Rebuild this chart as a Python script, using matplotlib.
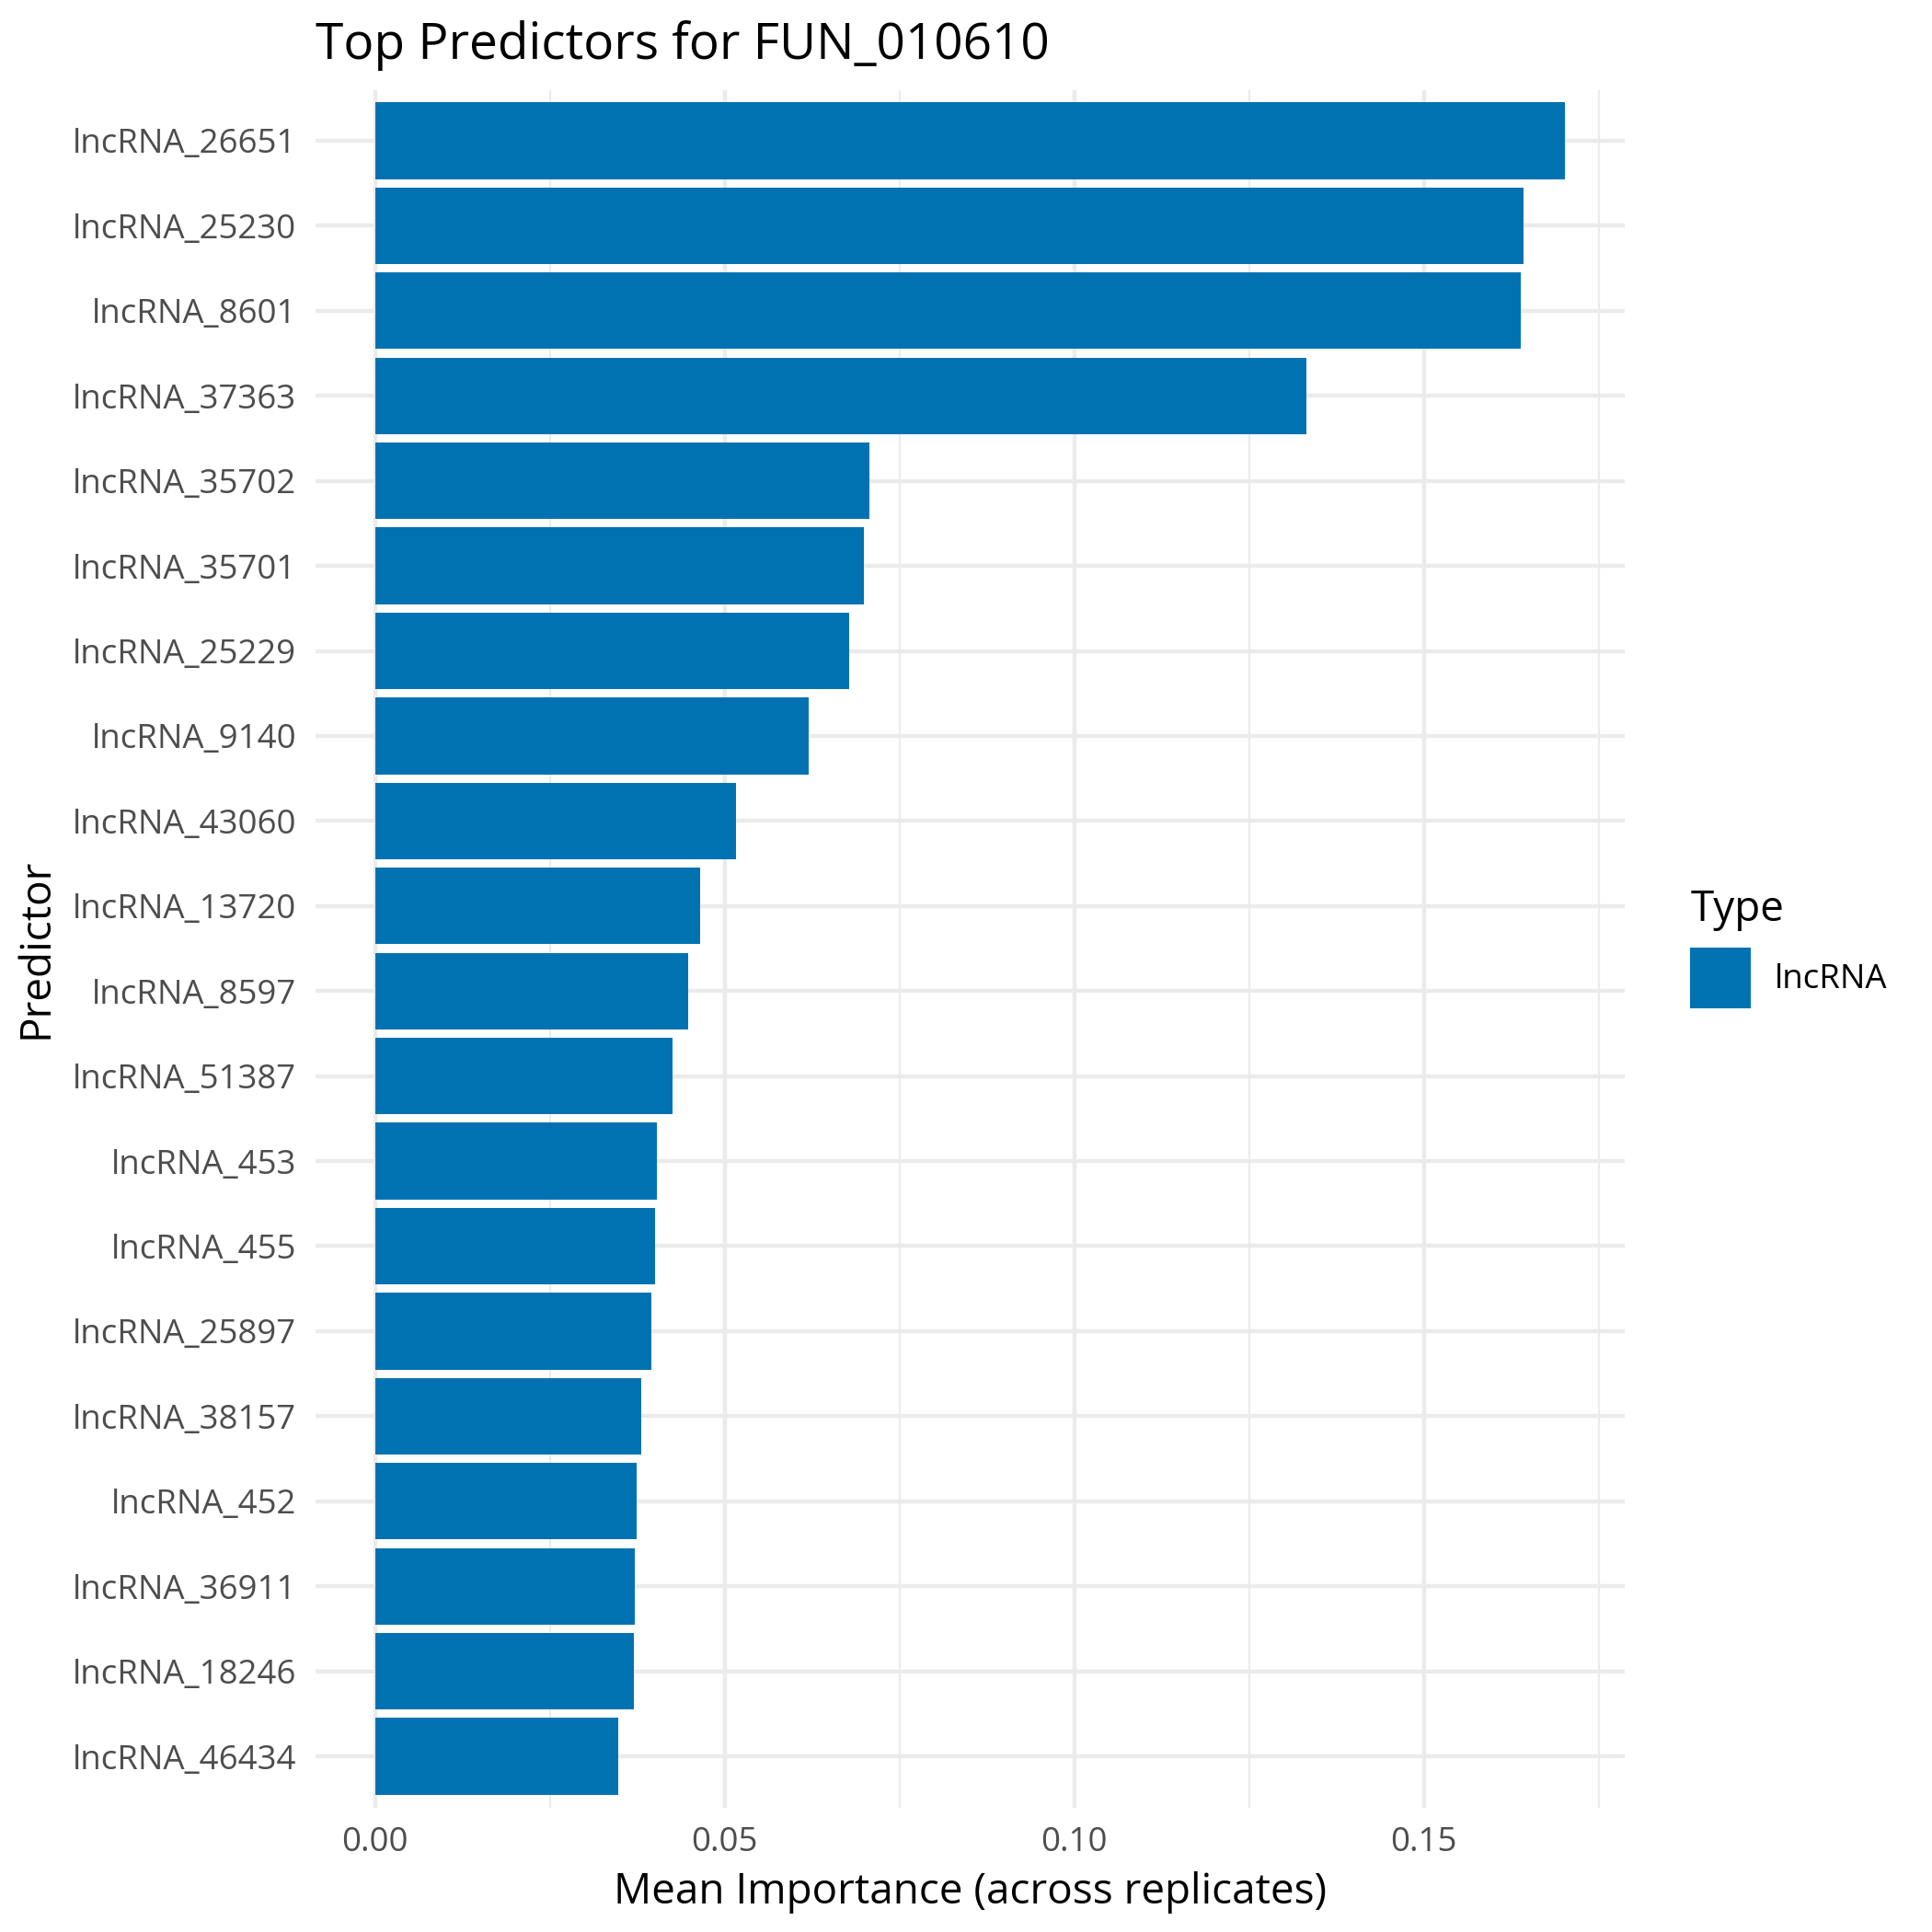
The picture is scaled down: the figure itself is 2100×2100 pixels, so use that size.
"""
Top predictors bar chart (ggplot theme_minimal look).
"""
import numpy as np
import matplotlib
matplotlib.use("Agg")
import matplotlib.pyplot as plt
from matplotlib.ticker import MultipleLocator

plt.rcParams['font.family'] = ['Open Sans', 'DejaVu Sans']

#%% data
predictors = ['lncRNA_26651', 'lncRNA_25230', 'lncRNA_8601', 'lncRNA_37363',
              'lncRNA_35702', 'lncRNA_35701', 'lncRNA_25229', 'lncRNA_9140',
              'lncRNA_43060', 'lncRNA_13720', 'lncRNA_8597', 'lncRNA_51387',
              'lncRNA_453', 'lncRNA_455', 'lncRNA_25897', 'lncRNA_38157',
              'lncRNA_452', 'lncRNA_36911', 'lncRNA_18246', 'lncRNA_46434']
importance = [0.1702, 0.1643, 0.1639, 0.1332,
              0.0707, 0.0699, 0.0678, 0.0620,
              0.0516, 0.0465, 0.0448, 0.0425,
              0.0403, 0.0401, 0.0395, 0.0380,
              0.0374, 0.0372, 0.0370, 0.0348]
types = ['lncRNA'] * len(predictors)
type_colors = {'lncRNA': '#0072B2'}

title = 'Top Predictors for FUN_010610'
xlabel = 'Mean Importance (across replicates)'
ylabel = 'Predictor'

#%% figure
fig = plt.figure(figsize=(7, 7), dpi=300)
ax = fig.add_axes([343/2100, 1 - 1964.5/2100, (1766 - 343)/2100, (1964.5 - 97.5)/2100])

n = len(predictors)
ypos = np.arange(n)
colors = [type_colors[t] for t in types]
ax.barh(ypos, importance, height=0.9, color=colors, zorder=2, label=types[0])

# ggplot-style expansion
xmax = max(importance)
ax.set_xlim(-0.05 * xmax, 1.05 * xmax)
ax.set_ylim(n - 1 + 0.6, -0.6)

ax.set_yticks(ypos)
ax.set_yticklabels(predictors)
ax.xaxis.set_major_locator(MultipleLocator(0.05))
ax.xaxis.set_minor_locator(MultipleLocator(0.025))
ax.xaxis.set_major_formatter(matplotlib.ticker.FormatStrFormatter('%.2f'))

# theme_minimal grid
ax.grid(which='major', axis='both', color='#EBEBEB', linewidth=1.07, zorder=0)
ax.grid(which='minor', axis='x', color='#EBEBEB', linewidth=0.53, zorder=0)
ax.set_axisbelow(True)
for s in ax.spines.values():
    s.set_visible(False)
ax.tick_params(which='both', length=0)
ax.tick_params(axis='both', labelsize=8.8, labelcolor='#4D4D4D', pad=4.95)

ax.set_xlabel(xlabel, fontsize=11, labelpad=3)
ax.set_ylabel(ylabel, fontsize=11, labelpad=4)
ax.set_title(title, fontsize=13.2, loc='left', pad=8)

# legend on the right
leg = fig.legend(loc='center left', bbox_to_anchor=(1808/2100, 1 - 1031/2100),
                 title='Type', fontsize=8.8, title_fontsize=11, frameon=False,
                 handlelength=1.8, handleheight=2.39, handletextpad=0.7,
                 borderpad=0.3, alignment='left')

fig.savefig('out.png', dpi=300)
